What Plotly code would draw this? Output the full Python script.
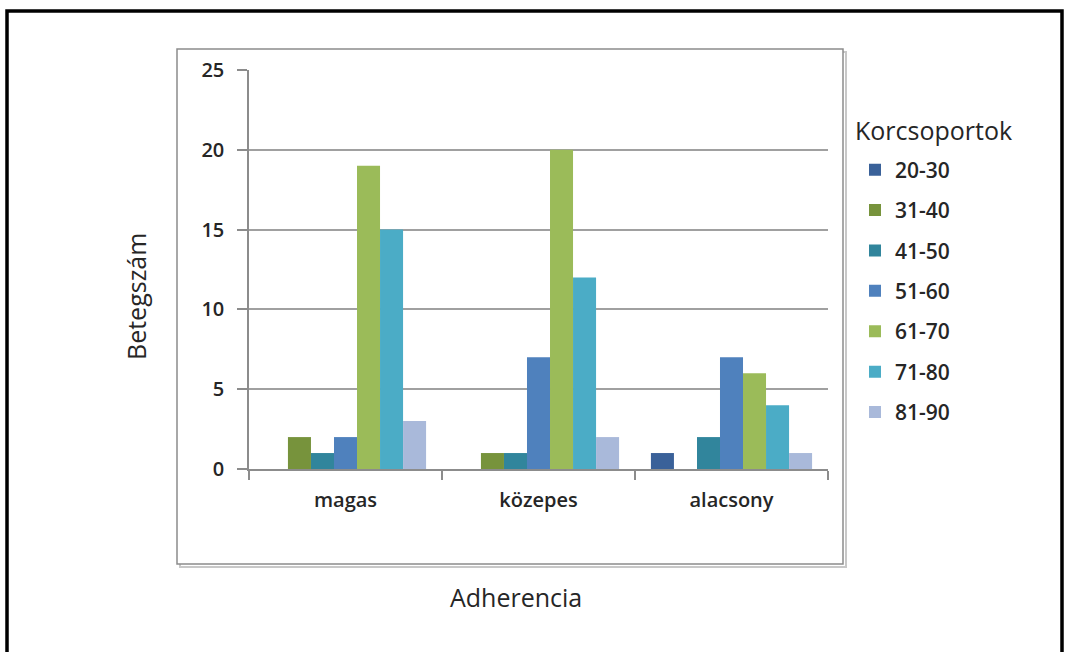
import plotly.graph_objects as go

# Patient counts per adherence level, split by age group
adherence = ["magas", "közepes", "alacsony"]
age_groups = ["20-30", "31-40", "41-50", "51-60", "61-70", "71-80", "81-90"]
counts_20_30 = [0, 0, 1]
counts_31_40 = [2, 1, 0]
counts_41_50 = [1, 1, 2]
counts_51_60 = [2, 7, 7]
counts_61_70 = [19, 20, 6]
counts_71_80 = [15, 12, 4]
counts_81_90 = [3, 2, 1]
y_ticks = [0, 5, 10, 15, 20, 25]

series = [counts_20_30, counts_31_40, counts_41_50, counts_51_60,
          counts_61_70, counts_71_80, counts_81_90]
colors = ["#3A6199", "#77933C", "#31859C", "#4F81BD", "#9BBB59", "#4BACC6", "#A9B9DA"]

W, H = 1068, 652
L, R, T, B = 249, 828, 70, 469  # plot area in pixels


def px(x):
    return (x - L) / (R - L)


def py(y):
    return (B - y) / (B - T)


fig = go.Figure()
for i, (name, vals) in enumerate(zip(age_groups, series)):
    fig.add_trace(go.Bar(
        x=adherence, y=vals, name=name,
        marker=dict(color=colors[i], line=dict(width=0)),
        legendgroup=name,
    ))

tick_font = dict(family="Open Sans, sans-serif", size=20, color="#262626", weight=600)
title_font = dict(family="Open Sans, sans-serif", size=25, color="#262626")
axis_grey = "#8C8C8C"

fig.update_layout(
    width=W, height=H,
    margin=dict(l=L, r=W - R, t=T, b=H - B, pad=0),
    paper_bgcolor="white", plot_bgcolor="white",
    barmode="group", bargap=0.165, bargroupgap=0,
    showlegend=True,
    legend=dict(
        font=dict(family="Open Sans, sans-serif", size=21, color="#262626", weight=600),
        x=px(855), y=py(149.5), xanchor="left", yanchor="top",
        traceorder="grouped", tracegroupgap=10.1,
        itemwidth=30, bgcolor="rgba(0,0,0,0)",
    ),
    xaxis=dict(
        type="category", tickson="boundaries", ticks="outside", ticklen=9,
        tickcolor=axis_grey, tickwidth=1.5, showline=True, linecolor=axis_grey, linewidth=1.5,
        tickfont=tick_font, showgrid=False, ticklabelstandoff=12,
    ),
    yaxis=dict(
        range=[0, 25], tickvals=y_ticks, ticks="outside", ticklen=10,
        tickcolor=axis_grey, tickwidth=1.5, showline=True, linecolor=axis_grey, linewidth=1.5,
        showgrid=True, gridcolor="#A0A0A0", gridwidth=1.5, zeroline=False,
        tickfont=tick_font, ticklabelstandoff=9,
    ),
    annotations=[
        dict(text="Adherencia", xref="paper", yref="paper", x=px(516), y=py(597),
             xanchor="center", yanchor="middle", showarrow=False, font=title_font),
        dict(text="Betegszám", xref="paper", yref="paper", x=px(136), y=py(297),
             xanchor="center", yanchor="middle", showarrow=False, textangle=-90, font=title_font),
        dict(text="Korcsoportok", xref="paper", yref="paper", x=px(853), y=py(130),
             xanchor="left", yanchor="middle", showarrow=False,
             font=dict(family="Open Sans, sans-serif", size=25, color="#262626")),
    ],
    shapes=[
        # outer frame
        dict(type="rect", xref="paper", yref="paper",
             x0=px(7), x1=px(1062), y0=py(670), y1=py(11),
             line=dict(color="black", width=3.5), layer="below"),
        # plot area shadow
        dict(type="rect", xref="paper", yref="paper",
             x0=px(180), x1=px(846), y0=py(567), y1=py(52),
             line=dict(color="#C8C8C8", width=2), layer="below"),
        # plot area box
        dict(type="rect", xref="paper", yref="paper",
             x0=px(177), x1=px(843), y0=py(564), y1=py(49),
             line=dict(color="#8C8C8C", width=1.5), fillcolor="white", layer="below"),
    ],
)

fig.write_html("out.html")
